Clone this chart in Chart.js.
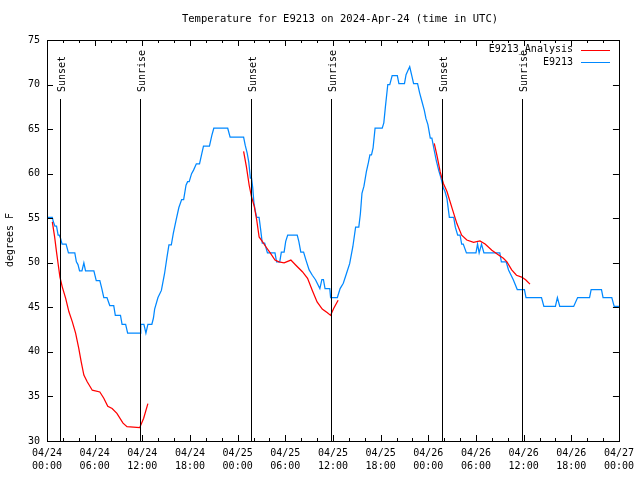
<!DOCTYPE html>
<html lang="en">
  <head>
    <meta charset="UTF-8" />
    <title>Temperature for E9213</title>
    <style>
      body { margin: 0; background: #fff; }
      canvas { display: block; }
    </style>
  </head>
  <body>
    <canvas id="chart" width="640" height="480"></canvas>
    <script src="https://cdn.jsdelivr.net/npm/chart.js"></script>
    <script>
      // hours since 2024-04-24 00:00 UTC
      const obsHours = [
        0, 0.67, 0.8, 1.0, 1.2, 1.4, 1.55, 1.7, 1.9, 2.4, 2.7, 3.5, 3.7, 3.9, 4.1, 4.4, 4.64, 4.85, 5.9, 6.2,
        6.65, 6.9, 7.15, 7.55, 7.9, 8.4, 8.6, 9.25, 9.45, 9.9, 10.15, 11.75, 11.8, 12.2, 12.45, 12.7, 13.2, 13.4, 13.55, 13.97,
        14.4, 14.8, 15.1, 15.35, 15.65, 15.9, 16.25, 16.6, 16.95, 17.2, 17.5, 17.7, 17.9, 18.2, 18.45, 18.8, 19.2, 19.5, 19.7, 20.45,
        20.75, 21.0, 22.75, 23.05, 24.75, 24.95, 25.2, 25.4, 25.6, 25.75, 25.9, 26.05, 26.2, 26.4, 26.7, 26.9, 27.1, 27.4, 27.75, 28.7,
        28.9, 29.3, 29.5, 29.85, 30.05, 30.3, 31.5, 31.7, 31.95, 32.3, 32.6, 33.0, 33.4, 33.8, 34.35, 34.6, 34.8, 35.0, 35.6, 35.7,
        36.55, 36.9, 37.3, 37.7, 38.1, 38.5, 38.85, 39.25, 39.45, 39.65, 39.9, 40.2, 40.45, 40.65, 40.85, 41.05, 41.3, 42.2, 42.4, 42.6,
        42.9, 43.15, 43.45, 44.1, 44.3, 45.0, 45.2, 45.45, 45.66, 45.95, 46.15, 46.65, 46.9, 47.2, 47.5, 47.7, 47.95, 48.25, 48.45, 48.75,
        49.0, 49.3, 49.6, 49.9, 50.1, 50.35, 50.65, 51.2, 51.4, 51.7, 52.0, 52.2, 52.4, 52.8, 54.0, 54.2, 54.4, 54.7, 55.0, 57.0,
        57.2, 57.8, 58.1, 58.7, 59.2, 60.1, 60.3, 60.7, 62.25, 62.55, 64.0, 64.25, 64.55, 66.3, 66.8, 68.3, 68.5, 69.8, 70.0, 71.1,
        71.4, 72.0
      ];
      const obsTemps = [
        55.1, 55.1, 54.6, 54.1, 54.1, 53.1, 53.1, 52.75, 52.1, 52.1, 51.1, 51.1, 50.1, 49.8, 49.1, 49.1, 50.0, 49.1, 49.1, 48.0,
        48.0, 47.1, 46.1, 46.1, 45.2, 45.2, 44.1, 44.1, 43.1, 43.1, 42.1, 42.1, 43.1, 43.1, 42.1, 43.1, 43.1, 43.8, 44.8, 46.1,
        46.9, 48.8, 50.6, 52.0, 52.0, 53.3, 54.8, 56.2, 57.1, 57.1, 58.7, 59.1, 59.1, 60.0, 60.4, 61.1, 61.1, 62.3, 63.1, 63.1,
        64.3, 65.1, 65.1, 64.1, 64.1, 63.2, 62.3, 61.3, 59.5, 59.5, 58.4, 56.7, 55.9, 55.1, 55.1, 53.7, 52.2, 52.2, 51.1, 51.1,
        50.1, 50.1, 51.2, 51.2, 52.4, 53.1, 53.1, 52.4, 51.2, 51.2, 50.3, 49.2, 48.6, 48.1, 47.1, 48.1, 48.1, 47.1, 47.1, 46.1,
        46.1, 47.1, 47.7, 48.8, 49.9, 51.8, 54.0, 54.0, 55.5, 57.8, 58.6, 60.2, 61.2, 62.1, 62.1, 62.9, 65.1, 65.1, 65.7, 67.5,
        70.0, 70.0, 71.0, 71.0, 70.1, 70.1, 71.1, 71.6, 72.0, 70.9, 70.1, 70.1, 69.1, 68.1, 67.1, 66.2, 65.5, 64.0, 64.0, 62.6,
        61.5, 60.4, 59.5, 58.4, 58.0, 57.2, 55.1, 55.1, 54.0, 53.1, 53.1, 52.1, 52.1, 51.1, 51.1, 52.1, 51.1, 52.1, 51.1, 51.1,
        50.1, 50.1, 49.2, 48.1, 47.0, 47.0, 46.1, 46.1, 46.1, 45.1, 45.1, 46.1, 45.1, 45.1, 46.1, 46.1, 47.0, 47.0, 46.1, 46.1,
        45.1, 45.1
      ];

      // analysis runs, null breaks the line between them
      const anaHours = [
        0.67, 0.96, 1.2, 1.42, 1.63, 1.92, 2.35, 2.76, 3.18, 3.6, 4.0, 4.3, 4.64, 5.06, 5.7, 6.65, 7.15, 7.65, 8.2, 8.8,
        9.57, 10.07, 11.67, 12.17, 12.7, 18,
        24.75, 25.1, 25.45, 25.75, 26.1, 26.4, 26.7, 27.1, 27.55, 28.1, 28.7, 29.2, 29.85, 30.7, 31.3, 32.15, 32.8, 33.4, 34.0, 34.65,
        35.3, 35.7, 36.1, 36.65, 42,
        48.75, 49.1, 49.5, 49.9, 50.35, 51.0, 51.6, 52.2, 52.85, 53.7, 54.5, 55.15, 56.0, 56.8, 57.45, 57.9, 58.5, 59.1, 59.75, 60.25,
        60.8
      ];
      const anaTemps = [
        54.6, 52.9, 51.2, 49.75, 48.4, 47.3, 46.0, 44.5, 43.4, 42.1, 40.4, 38.9, 37.4, 36.65, 35.7, 35.5, 34.8, 33.9, 33.65, 33.1,
        32.0, 31.6, 31.5, 32.55, 34.2, null,
        62.5, 60.8, 58.7, 57.4, 56.3, 54.8, 52.9, 52.4, 51.8, 51.1, 50.3, 50.1, 50.0, 50.3, 49.75, 49.0, 48.25, 46.9, 45.6, 44.8,
        44.4, 44.1, 44.9, 45.8, null,
        63.4, 62.0, 60.2, 58.9, 58.0, 56.1, 54.4, 53.1, 52.55, 52.3, 52.45, 52.1, 51.4, 50.9, 50.5, 50.1, 49.2, 48.6, 48.4, 48.1,
        47.6
      ];

      const sunHours = [1.58, 11.72, 25.63, 35.7, 49.7, 59.75];
      const sunLabels = ["Sunset", "Sunrise", "Sunset", "Sunrise", "Sunset", "Sunrise"];

      const xDates = ["04/24", "04/24", "04/24", "04/24", "04/25", "04/25", "04/25", "04/25", "04/26", "04/26", "04/26", "04/26", "04/27"];
      const xTimes = ["00:00", "06:00", "12:00", "18:00", "00:00", "06:00", "12:00", "18:00", "00:00", "06:00", "12:00", "18:00", "00:00"];

      const FONT = "DejaVu Sans Mono";
      const RED = "#ff0000";
      const BLUE = "#0088ff";

      function pts(xs, ys) {
        return xs.map((x, i) => ({ x: x, y: ys[i] }));
      }

      function line(ctx, x1, y1, x2, y2) {
        ctx.beginPath();
        ctx.moveTo(x1, y1);
        ctx.lineTo(x2, y2);
        ctx.stroke();
      }

      const decor = {
        id: "decor",
        beforeDraw(chart) {
          const ctx = chart.ctx;
          ctx.save();
          ctx.fillStyle = "#fff";
          ctx.fillRect(0, 0, chart.width, chart.height);
          ctx.restore();
        },
        afterDatasetsDraw(chart) {
          const ctx = chart.ctx;
          const a = chart.chartArea;
          const xs = chart.scales.x;
          const ys = chart.scales.y;
          ctx.save();
          ctx.strokeStyle = "#000";
          ctx.fillStyle = "#000";
          ctx.lineWidth = 1;
          ctx.font = "10px " + FONT;

          // sunrise / sunset markers
          sunHours.forEach((h, i) => {
            const px = Math.round(xs.getPixelForValue(h)) + 0.5;
            line(ctx, px, a.top + 59, px, a.bottom);
            ctx.save();
            ctx.translate(px + 2, a.top + 52);
            ctx.rotate(-Math.PI / 2);
            ctx.textAlign = "left";
            ctx.textBaseline = "middle";
            ctx.fillText(sunLabels[i], 0, 0);
            ctx.restore();
          });

          // frame
          ctx.strokeRect(Math.round(a.left) + 0.5, Math.round(a.top) + 0.5,
            Math.round(a.right - a.left), Math.round(a.bottom - a.top));

          // inward ticks
          for (let h = 0; h <= 72; h += 2) {
            const px = Math.round(xs.getPixelForValue(h)) + 0.5;
            const len = h % 6 === 0 ? 6 : 3;
            line(ctx, px, a.bottom, px, a.bottom - len);
            line(ctx, px, a.top, px, a.top + len);
          }
          for (let v = 30; v <= 75; v += 5) {
            const py = Math.round(ys.getPixelForValue(v)) + 0.5;
            line(ctx, a.left, py, a.left + 6, py);
            line(ctx, a.right, py, a.right - 6, py);
          }

          // title
          ctx.textAlign = "center";
          ctx.textBaseline = "middle";
          ctx.font = "10.5px " + FONT;
          ctx.fillText("Temperature for E9213 on 2024-Apr-24 (time in UTC)", 340, 19);
          ctx.font = "10px " + FONT;

          // y title
          ctx.save();
          ctx.translate(10, 240);
          ctx.rotate(-Math.PI / 2);
          ctx.fillText("degrees F", 0, 0);
          ctx.restore();

          // legend
          ctx.textAlign = "right";
          ctx.fillText("E9213_Analysis", 573, 49);
          ctx.fillText("E9213", 573, 62);
          ctx.strokeStyle = RED;
          line(ctx, 581, 50.5, 610, 50.5);
          ctx.strokeStyle = BLUE;
          line(ctx, 581, 62.5, 610, 62.5);
          ctx.restore();
        },
      };

      new Chart(document.getElementById("chart"), {
        type: "line",
        data: {
          datasets: [
            {
              label: "E9213_Analysis",
              data: pts(anaHours, anaTemps),
              borderColor: RED,
              borderWidth: 1.25,
              pointRadius: 0,
              spanGaps: false,
            },
            {
              label: "E9213",
              data: pts(obsHours, obsTemps),
              borderColor: BLUE,
              borderWidth: 1.25,
              pointRadius: 0,
            },
          ],
        },
        options: {
          responsive: false,
          animation: false,
          layout: { padding: { top: 40, right: 19, left: 0, bottom: 0 } },
          scales: {
            x: {
              type: "linear",
              min: 0,
              max: 72,
              grid: { display: false, drawTicks: false },
              border: { display: false },
              afterFit(scale) {
                scale.height = 39;
              },
              ticks: {
                stepSize: 6,
                autoSkip: false,
                maxRotation: 0,
                padding: 6,
                color: "#000",
                font: { family: FONT, size: 10, lineHeight: 1.3 },
                callback: (v) => [xDates[v / 6], xTimes[v / 6]],
              },
            },
            y: {
              min: 30,
              max: 75,
              grid: { display: false, drawTicks: false },
              border: { display: false },
              afterFit(scale) {
                scale.width = 47;
              },
              ticks: {
                stepSize: 5,
                padding: 7,
                color: "#000",
                font: { family: FONT, size: 10 },
              },
            },
          },
          plugins: {
            legend: { display: false },
            tooltip: { enabled: false },
          },
        },
        plugins: [decor],
      });
    </script>
  </body>
</html>
